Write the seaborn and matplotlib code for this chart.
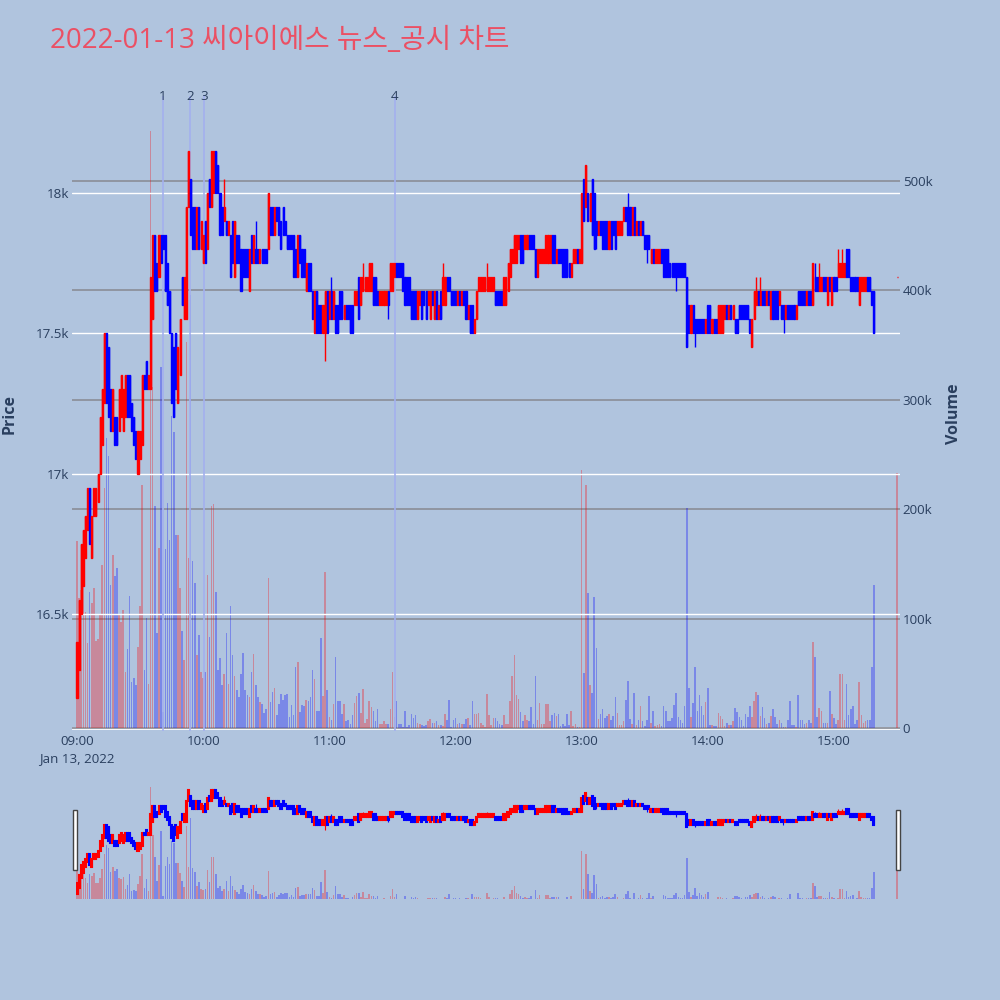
import numpy as np
import pandas as pd
import matplotlib
matplotlib.use('Agg')
import matplotlib.pyplot as plt
import matplotlib.transforms as mtransforms
from matplotlib.patches import Rectangle
import seaborn as sns

sns.set_theme(style='white')
plt.rcParams['font.family'] = ['Open Sans', 'Noto Sans CJK KR', 'DejaVu Sans']

title = '2022-01-13 씨아이에스 뉴스_공시 차트'

# one candle per minute from 09:00 (minute 0) to 15:19 (minute 379)
# candle body low / high, in ticks of 50 won above 16,000 won
body_lo = [
    4, 6, 10, 12, 14, 16, 15, 14, 17, 17, 18, 20, 22, 25, 25, 24, 23, 23, 22, 22,
    23, 24, 23, 24, 24, 24, 23, 22, 21, 20, 21, 22, 26, 26, 26, 26, 31, 33, 33, 34,
    35, 36, 33, 32, 30, 25, 24, 26, 25, 27, 32, 31, 31, 39, 37, 36, 36, 36, 36, 36,
    35, 35, 36, 39, 39, 40, 40, 40, 37, 37, 38, 37, 37, 34, 35, 34, 35, 35, 33, 34,
    34, 34, 33, 35, 35, 35, 35, 35, 35, 35, 35, 36, 37, 37, 37, 38, 37, 36, 37, 37,
    36, 36, 36, 34, 34, 34, 35, 34, 34, 33, 33, 33, 31, 30, 30, 30, 30, 30, 30, 30,
    31, 31, 31, 30, 30, 31, 31, 31, 31, 31, 30, 30, 32, 32, 31, 32, 33, 33, 33, 33,
    33, 32, 32, 32, 32, 32, 32, 32, 32, 33, 33, 34, 34, 34, 34, 33, 32, 32, 32, 31,
    31, 31, 31, 32, 31, 32, 31, 32, 31, 32, 31, 31, 31, 31, 32, 32, 33, 33, 32, 32,
    32, 32, 32, 32, 32, 31, 31, 30, 30, 30, 31, 33, 33, 33, 33, 33, 33, 33, 33, 32,
    32, 32, 32, 32, 32, 33, 34, 35, 35, 35, 36, 35, 35, 36, 36, 36, 36, 36, 34, 34,
    35, 35, 35, 35, 35, 35, 35, 35, 35, 35, 35, 34, 34, 34, 34, 34, 35, 35, 35, 35,
    35, 38, 39, 38, 38, 37, 36, 37, 37, 37, 36, 36, 36, 36, 36, 37, 36, 37, 37, 37,
    38, 38, 37, 37, 37, 37, 37, 37, 37, 37, 36, 36, 36, 35, 35, 35, 35, 35, 35, 34,
    34, 34, 34, 34, 34, 34, 34, 34, 34, 34, 29, 30, 30, 30, 30, 30, 30, 30, 30, 30,
    30, 30, 30, 30, 30, 30, 30, 30, 31, 31, 31, 31, 31, 30, 30, 31, 31, 31, 31, 31,
    30, 29, 31, 32, 32, 32, 32, 32, 32, 32, 31, 31, 31, 31, 32, 31, 31, 31, 31, 31,
    31, 31, 31, 32, 32, 32, 32, 32, 32, 32, 32, 33, 33, 33, 33, 33, 33, 32, 33, 32,
    33, 33, 34, 34, 34, 34, 34, 34, 33, 33, 33, 33, 32, 33, 33, 33, 33, 33, 32, 30,
]
body_hi = [
    8, 11, 15, 16, 17, 19, 19, 17, 19, 19, 20, 24, 26, 30, 30, 29, 26, 26, 24, 24,
    26, 27, 26, 27, 27, 27, 25, 24, 23, 23, 23, 27, 27, 28, 27, 34, 37, 37, 35, 37,
    37, 37, 37, 35, 33, 30, 29, 30, 29, 31, 34, 34, 39, 43, 41, 39, 39, 39, 39, 38,
    37, 38, 40, 41, 43, 43, 43, 42, 40, 39, 39, 38, 38, 37, 38, 38, 37, 37, 36, 36,
    36, 36, 36, 37, 37, 36, 36, 36, 36, 36, 36, 40, 39, 39, 39, 39, 39, 38, 39, 38,
    37, 37, 37, 37, 36, 37, 37, 36, 36, 35, 35, 35, 33, 33, 33, 32, 32, 32, 33, 33,
    33, 33, 33, 32, 32, 33, 33, 32, 32, 32, 32, 32, 33, 33, 34, 34, 34, 34, 34, 35,
    35, 34, 34, 33, 33, 33, 33, 33, 33, 35, 35, 35, 35, 35, 35, 35, 34, 34, 34, 33,
    33, 33, 33, 33, 33, 33, 33, 33, 33, 33, 33, 33, 32, 33, 34, 34, 34, 34, 33, 33,
    33, 33, 33, 33, 33, 33, 32, 32, 32, 31, 33, 34, 34, 34, 34, 34, 34, 34, 34, 33,
    33, 33, 33, 34, 34, 35, 36, 36, 37, 37, 37, 37, 37, 37, 37, 37, 37, 37, 36, 36,
    36, 36, 36, 37, 37, 37, 37, 37, 36, 36, 36, 36, 36, 36, 35, 35, 36, 36, 36, 36,
    40, 41, 42, 40, 40, 41, 40, 38, 38, 38, 38, 38, 38, 38, 38, 38, 38, 38, 38, 38,
    39, 39, 39, 39, 39, 39, 38, 38, 38, 38, 37, 37, 37, 36, 36, 36, 36, 36, 36, 36,
    36, 36, 35, 35, 35, 35, 35, 35, 35, 35, 34, 32, 32, 32, 31, 31, 31, 31, 31, 31,
    32, 32, 31, 31, 31, 32, 32, 32, 32, 32, 32, 32, 32, 31, 31, 32, 32, 32, 32, 32,
    31, 31, 33, 33, 33, 33, 33, 33, 33, 33, 33, 33, 33, 33, 33, 32, 32, 32, 32, 32,
    32, 32, 32, 33, 33, 33, 33, 33, 33, 33, 35, 34, 34, 34, 34, 34, 34, 34, 34, 34,
    34, 34, 35, 35, 35, 35, 36, 36, 34, 34, 34, 34, 34, 34, 34, 34, 34, 34, 33, 33,
]
# wicks that stick out past the body (minute: tick)
wick_high = {70: 41, 85: 38, 121: 34, 136: 35, 174: 35, 195: 35, 262: 40,
             323: 34, 325: 34, 351: 35, 353: 35, 362: 36, 364: 36}
wick_low = {29: 20, 118: 28, 148: 31, 247: 36, 271: 35, 285: 33, 294: 29, 336: 30}

# r = up (red), b = down (blue)
sides = (
    "rrrrrrbrrr" "rrrrbbbrbb" "rrrrbbbbbr" "rrbbrrrbbr" "bbbbbbbbrr"
    "brrrbbbrbr" "rbrbrrbbbb" "rbrbbrbbbb" "bbrbrbbrbb" "brbbrbbbbb"
    "bbbbbrbb"
    "brbbbrbbbr" "rbrbrbbbbr" "bbbbrrbrrr" "rrrbbbrrrr" "brrrbbbbbb"
    "bbbbrrbbbr" "rbrbrbrrbb" "bbbrbrbbrb" "brrrrrrrrr" "rbbbbrrrrr"
    "rrrbbrrbbb" "brrrrrrrbb" "rbbbbbbrrr" "brrbrbrbb"
    "brbbbbrbbb" "rrrrbbbrbr" "brbbbbrbrr" "rbbbbbbbbb" "bbbbbrbbbb"
    "bbrbbrbbrr" "rrbrbrbbbb" "bbbbrrrbrb" "brbrbbbrbb" "rbbbbrbbbb"
    "rbbrbbrrbb" "rbrbbrrrrb" "bbbbbrrrrb" "bbb"
)

# traded volume per minute, thousands of shares
volume_k = [
    171, 119, 126, 135, 106, 78, 124, 114, 128, 80, 81, 103, 149, 219, 265, 249, 131, 158, 139, 146,
    103, 97, 108, 51, 72, 121, 42, 46, 39, 74, 112, 222, 53, 101, 40, 546, 312, 203, 87, 165,
    330, 15, 164, 206, 172, 285, 271, 176, 176, 128, 89, 62, 353, 155, 396, 153, 133, 67, 85, 51,
    46, 51, 140, 83, 203, 205, 124, 53, 64, 39, 49, 87, 40, 112, 67, 48, 35, 28, 49, 69,
    35, 30, 28, 51, 68, 39, 28, 24, 22, 14, 17, 137, 24, 33, 37, 12, 22, 31, 26, 30,
    31, 10, 21, 12, 56, 60, 15, 21,
    20, 26, 25, 28, 53, 45, 16, 16, 82, 29, 143, 35, 10, 7, 22, 65, 25, 25, 13, 22,
    6, 7, 4, 12, 23, 29, 32, 14, 36, 5, 8, 25, 19, 16, 6, 17, 4, 4, 6, 4,
    4, 17, 51, 10, 25, 4, 4, 1, 16, 1, 3, 13, 9, 12, 5, 4, 3, 2, 3, 6,
    8, 5, 5, 6, 3, 3, 2, 13, 7, 26, 1, 7, 9, 4, 5, 4, 4, 8, 9, 3,
    25, 13, 13, 14, 5, 3, 1, 31, 12, 3, 9, 9, 6, 4, 3, 12, 4, 4, 25, 48,
    67, 30, 27, 15, 6, 12, 7, 6, 19, 4, 48, 7, 23, 4, 4, 22, 22, 6, 12, 14,
    11, 13, 2, 4, 2, 13, 3, 16, 2, 4, 1, 1, 236, 50, 222, 123, 39, 32, 120,
    73, 8, 13, 17, 9, 11, 13, 7, 11, 28, 14, 3, 3, 6, 26, 43, 8, 4, 32, 3,
    7, 20, 6, 2, 7, 29, 5, 16, 2, 3, 4, 2, 20, 16, 6, 6, 9, 21, 32, 10,
    7, 5, 20, 201, 37, 10, 23, 56, 16, 30, 20, 12, 24, 37, 3, 3, 2, 2, 14, 11,
    8, 2, 5, 3, 3, 6, 18, 15, 10, 7, 2, 13, 10, 20, 10, 25, 33, 30, 11, 19,
    9, 4, 5, 11, 17, 10, 4, 7, 5, 1, 1, 7, 25, 3, 3, 1, 30, 7, 7, 4,
    5, 7, 5, 79, 65, 10, 18, 16, 5, 5, 5, 34, 13, 9, 4, 7, 49, 49, 7, 40,
    12, 17, 20, 4, 7, 42, 12, 5, 6, 7, 7, 56, 131,
]

# 15:30 closing auction print
close_minute = 390
close_price = 17700
close_volume_k = 233

news_times = ['09:40:55', '09:53:40', '10:00:25', '11:31:10']
news_labels = ['1', '2', '3', '4']

hour_ticks = ['09:00', '10:00', '11:00', '12:00', '13:00', '14:00', '15:00']
price_ticks = [16500, 17000, 17500, 18000]
price_tick_labels = ['16.5k', '17k', '17.5k', '18k']
volume_ticks = [0, 100, 200, 300, 400, 500]
volume_tick_labels = ['0', '100k', '200k', '300k', '400k', '500k']

assert len(body_lo) == len(body_hi) == len(sides) == len(volume_k)

# ---- build the candle table ----
n = len(body_lo)
minute = np.append(np.arange(n), close_minute)
lo = np.append(16000 + 50 * np.array(body_lo), close_price)
hi = np.append(16000 + 50 * np.array(body_hi), close_price)
wlo = lo.copy()
whi = hi.copy()
for m, t in wick_high.items():
    whi[m] = 16000 + 50 * t
for m, t in wick_low.items():
    wlo[m] = 16000 + 50 * t
side = list(sides) + ['r']
vol = np.append(np.array(volume_k), close_volume_k) * 1000

df = pd.DataFrame({'minute': minute, 'lo': lo, 'hi': hi, 'wlo': wlo, 'whi': whi,
                   'side': side, 'volume': vol})
candle_col = {'r': '#ff0000', 'b': '#0000ff'}
df['color'] = df['side'].map(candle_col)


def to_min(s):
    h, m, sec = [int(v) for v in s.split(':')]
    return (h - 9) * 60 + m + sec / 60.0


news_x = [to_min(s) for s in news_times]

BG = '#b0c4de'
PLOT_BG = '#e5ecf6'
FONT_COL = '#2a3f5f'
GRID_GRAY = '#8d929c'
TICK_FS = 9.6

fig = plt.figure(figsize=(10, 10), dpi=100, facecolor=BG)


def draw_panel(ax_p, ax_v, body_lw, wick_lw, vol_width):
    ax_v.set_facecolor(PLOT_BG)
    ax_p.patch.set_visible(False)
    ax_p.set_zorder(2)
    ax_v.set_zorder(1)
    sns.barplot(data=df, x='minute', y='volume', hue='side',
                palette={'r': '#ff0000', 'b': '#0000ff'}, native_scale=True,
                dodge=False, width=vol_width, saturation=1, alpha=0.3,
                linewidth=0, legend=False, errorbar=None, ax=ax_v)
    ax_p.vlines(df['minute'], df['wlo'], df['whi'], colors=df['color'],
                linewidth=wick_lw, zorder=3)
    ax_p.bar(df['minute'], df['hi'] - df['lo'], bottom=df['lo'], width=0.5,
             color=df['color'], edgecolor=df['color'], linewidth=body_lw, zorder=4)
    ax_p.set_ylim(16082, 18346)
    ax_v.set_ylim(-2700, 577700)
    for a in (ax_p, ax_v):
        for sp in a.spines.values():
            sp.set_visible(False)
        a.set_xlabel('')
        a.set_ylabel('')


# ---- main chart ----
ax = fig.add_axes([0.072, 0.269, 0.828, 0.635])
ax2 = ax.twinx()
draw_panel(ax, ax2, 1.0, 1.0, 0.75)
ax.set_xlim(-2.38, 391.4)

ax.set_yticks(price_ticks)
ax.set_yticklabels(price_tick_labels)
ax.yaxis.grid(True, color='white', linewidth=1.0)
ax.set_axisbelow(True)
ax2.set_yticks([v * 1000 for v in volume_ticks])
ax2.set_yticklabels(volume_tick_labels)
ax2.yaxis.grid(True, color=GRID_GRAY, linewidth=1.3)
ax2.axhline(0, color='white', linewidth=2, zorder=0.5)
ax.xaxis.grid(False)
ax2.xaxis.grid(False)

ax.set_xticks([i * 60 for i in range(len(hour_ticks))])
ax.set_xticklabels(hour_ticks)
ax2.set_xticks([i * 60 for i in range(len(hour_ticks))])
for a in (ax, ax2):
    a.tick_params(length=0, labelsize=TICK_FS, labelcolor=FONT_COL)
ax.tick_params(axis='x', pad=3)
ax.tick_params(axis='y', pad=2)
ax2.tick_params(axis='y', pad=2)
ax2.tick_params(axis='x', labelbottom=False)

trans = mtransforms.blended_transform_factory(ax.transData, ax.transAxes)
for x, lab in zip(news_x, news_labels):
    ax.axvline(x, color='#a3b0ee', linewidth=1.2, zorder=1)
    ax.text(x, 1.0, lab, transform=trans, ha='center', va='center',
            fontsize=TICK_FS, color=FONT_COL, zorder=6)

fig.text(0.077, 0.2415, 'Jan 13, 2022', ha='center', va='center',
         fontsize=TICK_FS, color=FONT_COL)
fig.text(0.010, 0.5865, 'Price', rotation=90, ha='center', va='center',
         fontsize=11.5, fontweight='bold', color=FONT_COL)
fig.text(0.954, 0.5865, 'Volume', rotation=90, ha='center', va='center',
         fontsize=11.5, fontweight='bold', color=FONT_COL)
fig.text(0.05, 0.959, title, ha='left', va='center', fontsize=20, color='#eb5064')

# ---- range slider ----
sl = fig.add_axes([0.076, 0.100, 0.822, 0.120])
sl2 = sl.twinx()
draw_panel(sl, sl2, 1.5, 0.8, 0.75)
sl.set_xlim(-0.5, 390.5)
for a in (sl, sl2):
    a.set_xticks([])
    a.set_yticks([])
    a.grid(False)

for x0 in (0.073, 0.896):
    fig.patches.append(Rectangle((x0, 0.130), 0.004, 0.060, transform=fig.transFigure,
                                 facecolor='white', edgecolor='#444444',
                                 linewidth=1.0, zorder=10))

fig.savefig('out.png', dpi=100, facecolor=BG)
